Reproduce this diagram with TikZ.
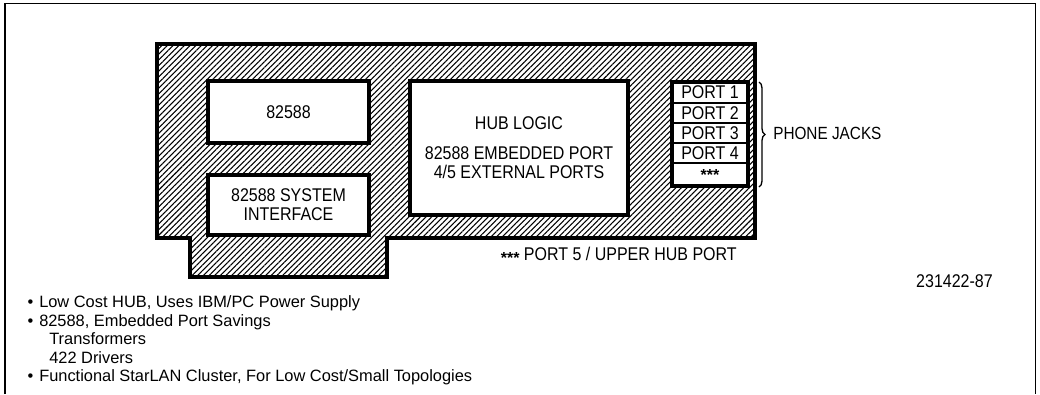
\documentclass[tikz,border=0pt]{standalone}
\usepackage{graphicx}
\usepackage{fontspec}
\setmainfont{Liberation Sans}
\usetikzlibrary{patterns.meta,decorations.pathreplacing}
\newcommand{\stars}{\raisebox{-0.4ex}{\textbf{***}}}
\newcommand{\tl}[1]{\scalebox{1}[1.15]{#1}}
\begin{document}
\begin{tikzpicture}[x=0.75pt,y=-0.75pt,
  frame/.style={line width=1.1pt},
  board/.style={line width=3pt,pattern={Lines[angle=45,distance=3pt,line width=0.8pt]}},
  box/.style={draw,line width=3pt,fill=white,inner sep=0pt,align=center,font=\fontsize{12}{14.3}\selectfont},
  portrow/.style={draw,line width=2pt,fill=white,inner sep=0pt,minimum width=57pt,font=\fontsize{12}{12}\selectfont},
  portcol/.style={draw,line width=3pt,inner sep=0pt,minimum width=57pt,minimum height=78pt},
  lbl/.style={inner sep=0pt,font=\fontsize{12}{14}\selectfont},
  bul/.style={inner sep=0pt,anchor=base west,font=\fontsize{12.3}{14}\selectfont},
  bracestyle/.style={line width=1pt,decorate,decoration={brace,amplitude=4.5pt}}
]
\useasboundingbox (0,0) rectangle (1040,394);
% outer frame
\coordinate (fbl) at (5,394);
\coordinate (ftl) at (5,3.5);
\coordinate (ftr) at (1035.5,3.5);
\coordinate (fbr) at (1035.5,394);
\draw[frame] (fbl) -- (ftl) -- (ftr) -- (fbr);
% board
\draw[board] (157,44) -- (755,44) -- (755,238) -- (387,238) -- (387,277) -- (190,277) -- (190,238) -- (157,238) -- cycle;
% chips
\node[box,minimum width=120.75pt,minimum height=46.5pt] (chip) at (288.5,112) {\tl{82588}};
\node[box,minimum width=120.75pt,minimum height=45pt] (sysif) at (288.5,205) {\tl{82588 SYSTEM}\\\tl{INTERFACE}};
\node[box,minimum width=163.5pt,minimum height=100.5pt] (hub) at (519,148)
  {\tl{HUB LOGIC}\\[8pt]\tl{82588 EMBEDDED PORT}\\\tl{4/5 EXTERNAL PORTS}};
% ports
\node[portrow,minimum height=15.75pt] (p1) at (710,92.5) {\tl{PORT 1}};
\node[portrow,minimum height=15pt] (p2) at (710,113) {\tl{PORT 2}};
\node[portrow,minimum height=15pt] (p3) at (710,133) {\tl{PORT 3}};
\node[portrow,minimum height=15pt] (p4) at (710,153) {\tl{PORT 4}};
\node[portrow,minimum height=17.25pt] (p5) at (710,174.5) {\stars};
\node[portcol] (col) at (710,134) {};
% brace
\coordinate (bt) at (759,82);
\coordinate (bb) at (759,187);
\draw[bracestyle] (bt) -- (bb);
\node[lbl,anchor=west,font=\fontsize{11.5}{14}\selectfont] (jacks) at (773,133) {\tl{PHONE JACKS}};
\node[lbl,anchor=base east] (note) at (737,260) {\stars\ \tl{PORT 5 / UPPER HUB PORT}};
\node[lbl,anchor=base east] (fig) at (993,287.3) {\tl{231422-87}};
% bullets
\node[bul] (b1) at (39,307) {\llap{\textbullet\hspace{4.5pt}}Low Cost HUB, Uses IBM/PC Power Supply};
\node[bul] (b2) at (39,326) {\llap{\textbullet\hspace{4.5pt}}82588, Embedded Port Savings};
\node[bul] (b3) at (49,344) {Transformers};
\node[bul] (b4) at (49,363) {422 Drivers};
\node[bul] (b5) at (39,381.5) {\llap{\textbullet\hspace{4.5pt}}Functional StarLAN Cluster, For Low Cost/Small Topologies};
\end{tikzpicture}
\end{document}
